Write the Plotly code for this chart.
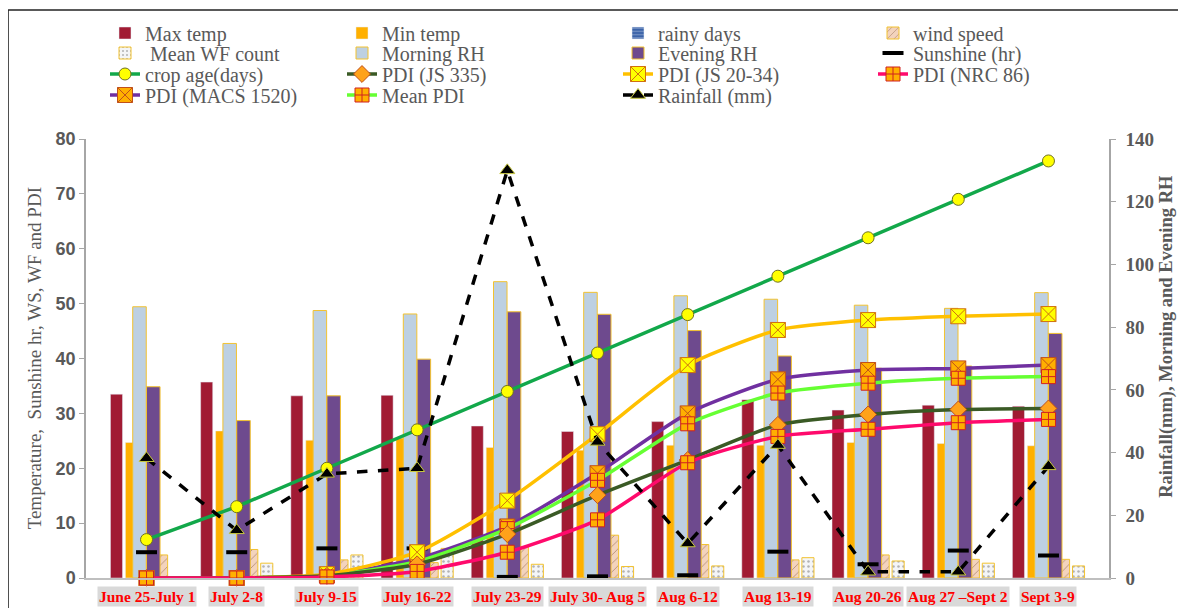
import plotly.graph_objects as go

categories = ["June 25-July 1", "July 2-8", "July 9-15", "July 16-22", "July 23-29",
              "July 30- Aug 5", "Aug 6-12", "Aug 13-19", "Aug 20-26", "Aug 27 \u2013Sept 2", "Sept 3-9"]

max_temp = [33.5, 35.7, 33.2, 33.3, 27.7, 26.7, 28.5, 32.5, 30.6, 31.5, 31.3]
min_temp = [24.7, 26.8, 25.1, 25.5, 23.8, 23.3, 24.2, 24.2, 24.7, 24.5, 24.1]
rainy_days = [4, 3, 3, 3, 5, 6, 2, 3, 1, 1, 4]
wind_speed = [4.2, 5.2, 3.3, 2.8, 5.7, 7.8, 6.1, 3.3, 4.2, 3.4, 3.4]
mean_wf = [0, 2.7, 4.2, 5.4, 2.5, 2.1, 2.2, 3.7, 3.1, 2.7, 2.2]
morning_rh = [86.5, 74.8, 85.3, 84.2, 94.5, 91.1, 90.0, 88.9, 87.0, 86.0, 91.0]
evening_rh = [61.0, 50.2, 58.1, 69.8, 84.9, 84.1, 78.9, 70.8, 66.9, 67.6, 78.0]
sunshine = [4.7, 4.7, 5.4, 5.4, 0.2, 0.3, 0.5, 4.8, 2.5, 5.0, 4.1]
crop_age = [7, 13, 20, 27, 34, 41, 48, 55, 62, 69, 76]
pdi_js335 = [0, 0, 0.4, 2.5, 8.0, 15.1, 21.5, 27.9, 29.8, 30.7, 30.9]
pdi_js2034 = [0, 0, 0.7, 4.7, 14.1, 26.2, 38.8, 45.2, 47.0, 47.7, 48.1]
pdi_nrc86 = [0, 0, 0.2, 1.2, 4.7, 10.6, 21.0, 25.8, 27.1, 28.3, 28.9]
pdi_macs1520 = [0, 0, 0.5, 3.5, 9.4, 19.1, 30.0, 36.2, 37.9, 38.2, 38.8]
mean_pdi = [0, 0, 0.4, 3.0, 9.0, 17.8, 28.1, 33.7, 35.5, 36.4, 36.7]
rainfall = [38.2, 15.2, 33.2, 35.0, 130.0, 43.4, 11.0, 42.4, 2.0, 2.0, 35.6]

GOLD = "#F2C230"
SERIF = "Liberation Serif"
GRAY = "#595959"
PAGE_OFFSET = 8  # browser body margin

fig = go.Figure()

legend_order = ["Max temp", "Min temp", "rainy days", "wind speed",
                " Mean WF count", "Morning RH", "Evening RH", "Sunshine (hr)",
                "crop age(days)", "PDI (JS 335)", "PDI (JS 20-34)", "PDI (NRC 86)",
                "PDI (MACS 1520)", "Mean PDI", "Rainfall (mm)"]
legend_ids = {}
for k, name in enumerate(legend_order, start=1):
    legend_ids[name] = "legend" if k == 1 else f"legend{k}"

BW = 0.134
prim = [("Max temp", max_temp, -0.333, dict(color="#A11B33")),
        ("Min temp", min_temp, -0.167, dict(color="#FFB000")),
        ("rainy days", rainy_days, 0.0, dict(color="#3A62A8", pattern=dict(shape="-", fgcolor="#DCE6F4", size=4, solidity=0.3))),
        ("wind speed", wind_speed, 0.167, dict(color="#F3D3BD", line=dict(color=GOLD, width=1),
                                             pattern=dict(shape="/", fgcolor="#7A4E33", size=6, solidity=0.15))),
        (" Mean WF count", mean_wf, 0.333, dict(color="#F4F5F7", line=dict(color=GOLD, width=1),
                                               pattern=dict(shape=".", fgcolor="#6F6F6F", size=5, solidity=0.2)))]
for name, vals, off, mk in prim:
    fig.add_trace(go.Bar(x=categories, y=vals, name=name, offset=off - BW / 2, width=BW,
                         marker=mk, yaxis="y", legend=legend_ids[name]))

RW = 0.15
for name, vals, off, col in [("Morning RH", morning_rh, -0.078, "#BDD0E2"),
                             ("Evening RH", evening_rh, 0.075, "#6E4A8E")]:
    fig.add_trace(go.Bar(x=categories, y=vals, name=name, offset=off - RW / 2, width=RW,
                         marker=dict(color=col, line=dict(color=GOLD, width=1)),
                         yaxis="y2", legend=legend_ids[name]))

fig.add_trace(go.Scatter(x=categories, y=sunshine, name="Sunshine (hr)", mode="markers",
                         marker=dict(symbol="line-ew", size=15, line=dict(color="black", width=4)),
                         yaxis="y3", cliponaxis=False, legend=legend_ids["Sunshine (hr)"]))
fig.add_trace(go.Scatter(x=categories, y=crop_age, name="crop age(days)", mode="lines+markers",
                         line=dict(color="#12A84A", width=3.5),
                         marker=dict(symbol="circle", size=12, color="#FFFF00", line=dict(color="#707020", width=1)),
                         yaxis="y3", cliponaxis=False, legend=legend_ids["crop age(days)"]))

pdi_specs = [("PDI (MACS 1520)", pdi_macs1520, "#7030A0", "square-x", "#FFB000", "#C0501A", 15),
             ("Mean PDI", mean_pdi, "#66FF33", "square-cross", "#FFB000", "#D02020", 14),
             ("PDI (JS 20-34)", pdi_js2034, "#FFC000", "square-x", "#FFFF00", "#D07010", 15),
             ("PDI (JS 335)", pdi_js335, "#3A5A25", "diamond", "#FFA21A", "#C0501A", 13),
             ("PDI (NRC 86)", pdi_nrc86, "#FF0A6C", "square-cross", "#FFB000", "#D02020", 14)]
for name, vals, lc, sym, mc, ml, sz in pdi_specs:
    fig.add_trace(go.Scatter(x=categories, y=vals, name=name, mode="lines+markers",
                             line=dict(color=lc, width=3.5, shape="spline", smoothing=0.6),
                             marker=dict(symbol=sym, size=sz, color=mc, line=dict(color=ml, width=1)),
                             yaxis="y3", cliponaxis=False, legend=legend_ids[name]))

fig.add_trace(go.Scatter(x=categories, y=rainfall, name="Rainfall (mm)", mode="lines+markers",
                         line=dict(color="black", width=3.5, dash="dash"),
                         marker=dict(symbol="triangle-up", size=13, color="black", line=dict(color="#C8C840", width=1)),
                         yaxis="y4", cliponaxis=False, legend=legend_ids["Rainfall (mm)"]))

col_text_x = [145, 382, 658, 913]
row_y = [33, 53, 74, 95]
layout_legends = {}
for i, name in enumerate(legend_order):
    r, c = divmod(i, 4)
    layout_legends[legend_ids[name]] = dict(
        x=(col_text_x[c] - 40 - PAGE_OFFSET) / 1186, y=1 - (row_y[r] - PAGE_OFFSET) / 608,
        xref="container", yref="container",
        xanchor="left", yanchor="middle", bgcolor="rgba(0,0,0,0)", borderwidth=0,
        font=dict(family=SERIF, size=20, color=GRAY), orientation="h")

axis_common = dict(showgrid=False, zeroline=False, showline=True, linecolor="#A6A6A6", linewidth=1.5,
                   ticks="outside", ticklen=5, tickcolor="#A6A6A6")

annotations = []
for c in categories:
    annotations.append(dict(x=c, xref="x", y=0, yref="paper", yanchor="top", yshift=-8,
                            text=f"<b>{c}</b>", showarrow=False, bgcolor="#D9D9D9", borderpad=1,
                            font=dict(family=SERIF, size=15.5, color="#FF0000")))
annotations.append(dict(x=-0.05, xref="paper", y=0.5, yref="paper", textangle=-90, showarrow=False,
                        xanchor="center", yanchor="middle",
                        text="Temperature,  Sunshine hr, WS, WF and PDI",
                        font=dict(family=SERIF, size=19, color=GRAY)))
annotations.append(dict(x=1.056, xref="paper", y=0.55, yref="paper", textangle=-90, showarrow=False,
                        xanchor="center", yanchor="middle",
                        text="<b>Rainfall(mm), Morning and Evening RH</b>",
                        font=dict(family=SERIF, size=18.5, color=GRAY)))

fig.update_layout(
    width=1186, height=608,
    margin=dict(l=78, r=85, t=131, b=38),
    paper_bgcolor="white", plot_bgcolor="white",
    barmode="overlay",
    showlegend=True,
    xaxis=dict(type="category", showline=True, linecolor="#BFBFBF", linewidth=1.5,
               showticklabels=False, ticks="", showgrid=False),
    yaxis=dict(range=[0, 80], dtick=10, **axis_common,
               tickfont=dict(family="Liberation Sans", size=18, color=GRAY, weight="bold")),
    yaxis2=dict(range=[0, 140], dtick=20, overlaying="y", side="right", **axis_common,
                ticklabelstandoff=6,
                tickfont=dict(family=SERIF, size=19, color=GRAY, weight="bold")),
    yaxis3=dict(range=[0, 80], overlaying="y", visible=False),
    yaxis4=dict(range=[0, 140], overlaying="y", visible=False),
    annotations=annotations,
    shapes=[dict(type="line", xref="paper", yref="paper", x0=-0.0762, x1=1.2, y0=1.2938, y1=1.2938,
                 line=dict(color="#222222", width=1.5)),
            dict(type="line", xref="paper", yref="paper", x0=-0.0762, x1=-0.0762, y0=-0.2, y1=1.2938,
                 line=dict(color="#222222", width=1.5))],
    **layout_legends,
)

fig.write_html("out.html")
